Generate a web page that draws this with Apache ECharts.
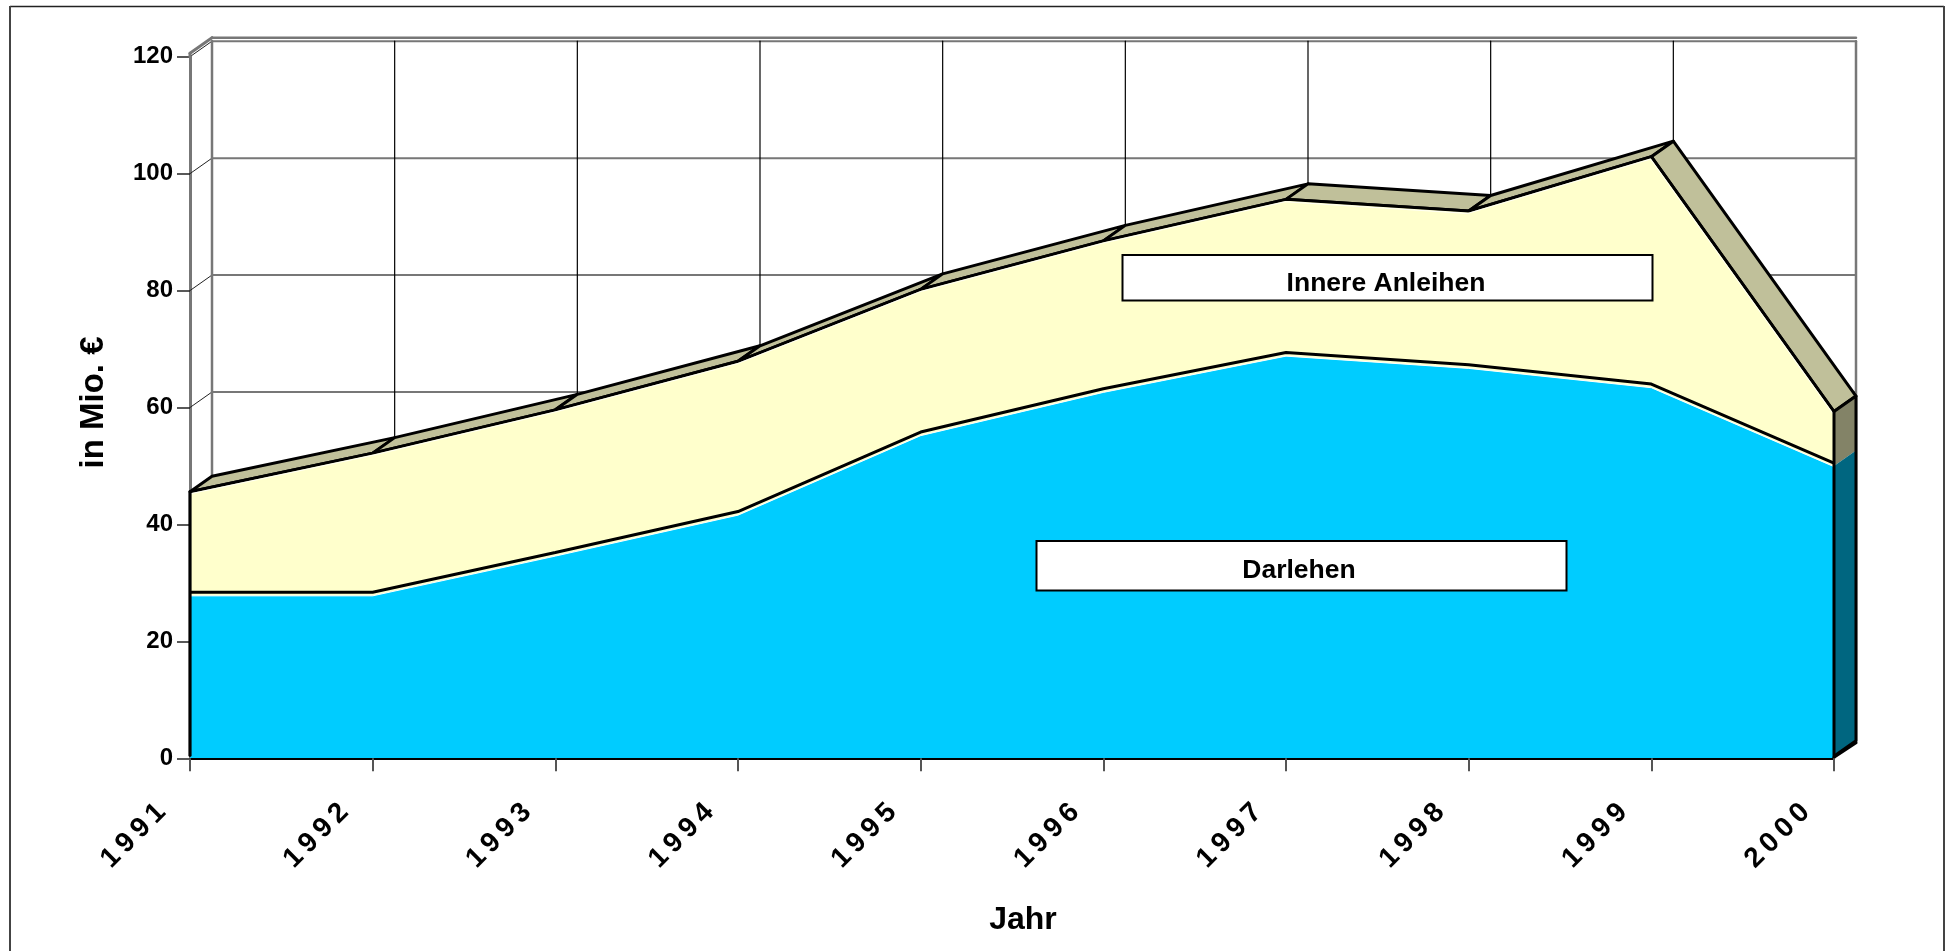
<!DOCTYPE html>
<html><head><meta charset="utf-8">
<script src="https://cdn.jsdelivr.net/npm/echarts@6/dist/echarts.min.js"></script>
<style>html,body{margin:0;padding:0;background:#fff}#c{width:1946px;height:951px}</style>
</head><body><div id="c"></div>
<script>
const categories = ['1991','1992','1993','1994','1995','1996','1997','1998','1999','2000'];
const darlehen = [28.4,28.4,35.2,42.2,55.8,63.2,69.4,67.3,64.0,50.5];
const innereAnleihen = [17.2,23.8,24.4,25.7,24.4,25.3,26.2,26.3,38.9,8.8];
const yTicks = [0,20,40,60,80,100,120];

const total = darlehen.map((d,i)=>d+innereAnleihen[i]);
const DX = 22, DY = -15.5;
const FONT = '"Liberation Sans", Arial, sans-serif';
const back = p => [p[0]+DX, p[1]+DY];
const last = categories.length-1;

// wide-tracked rotated year labels, keeping the text itself intact
const rawFill = CanvasRenderingContext2D.prototype.fillText;
CanvasRenderingContext2D.prototype.fillText = function(t,x,y,m){
  this.letterSpacing = /^\d{4}$/.test(t) ? '5.5px' : '0px';
  return m===undefined ? rawFill.call(this,t,x,y) : rawFill.call(this,t,x,y,m);
};

const line = (a,b,stroke,w,z) => ({type:'line',shape:{x1:a[0],y1:a[1],x2:b[0],y2:b[1]},style:{stroke,lineWidth:w,lineCap:'round'},z2:z||0});
const poly = (points,fill,stroke,w) => ({type:'polygon',shape:{points},style:{fill,stroke:stroke||null,lineWidth:w||0,lineJoin:'round'}});
const pl = (points,stroke,w) => ({type:'polyline',shape:{points},style:{stroke,lineWidth:w,fill:null,lineJoin:'round'}});
const custom = (name,data,z,renderItem) => ({type:'custom',name,data,z,silent:true,animation:false,clip:false,renderItem,tooltip:{show:false}});

const option = {
  animation:false,
  backgroundColor:'#fff',
  grid:{left:190,right:112,top:56.7,bottom:192.7,containLabel:false},
  xAxis:{type:'category',data:categories,boundaryGap:false,z:10,
    name:'Jahr',nameLocation:'middle',nameGap:146,
    nameTextStyle:{fontFamily:FONT,fontWeight:'bold',fontSize:32,color:'#000',padding:[0,0,0,22]},
    axisLine:{lineStyle:{color:'#000',width:2}},
    axisTick:{length:13,alignWithLabel:true,lineStyle:{color:'#555',width:2}},
    axisLabel:{interval:0,rotate:45,margin:21,padding:[0,35,0,0],hideOverlap:false,fontFamily:FONT,fontWeight:'bold',fontSize:28,color:'#000'},
    splitLine:{show:false}},
  yAxis:{type:'value',min:0,max:120,interval:20,
    name:'in Mio. €',nameLocation:'middle',nameGap:80,nameRotate:90,
    nameTextStyle:{fontFamily:FONT,fontWeight:'bold',fontSize:33,color:'#000',padding:[0,0,0,10]},
    axisLine:{show:true,lineStyle:{color:'#777',width:3}},
    axisTick:{show:true,length:13,lineStyle:{color:'#222',width:1.5}},
    axisLabel:{margin:17,fontFamily:FONT,fontWeight:'bold',fontSize:24,color:'#000'},
    splitLine:{show:false}},
  series:[
    custom('Wand horizontal',yTicks.map(v=>[0,v]),1,(p,api)=>{
      const v=api.value(1), f=api.coord([0,v]), r=api.coord([last,v]);
      const kids=[ line(back(f),back(r),'#777',2) ];
      if(v>0) kids.push(line(f,back(f),'#222',1));
      if(v===120){
        const a=[f[0],f[1]-3.5], b=[back(f)[0],back(f)[1]-3.5], c=[back(r)[0],b[1]];
        kids.push(line(a,b,'#777',3), line(b,c,'#777',2.5), line(f,a,'#777',3));
      }
      return {type:'group',children:kids};
    }),
    custom('Wand vertikal',categories.map((c,i)=>[i,0]),1,(p,api)=>{
      const i=api.value(0), f=back(api.coord([i,0])), t=back(api.coord([i,120]));
      const edge=(i===0||i===last);
      return line([f[0],f[1]],[t[0],t[1]],edge?'#777':'#000',edge?2.5:1.2);
    }),
    custom('Oberkante',categories.slice(0,-1).map((c,i)=>[i,0]),3,(p,api)=>{
      const i=api.value(0), a=api.coord([i,total[i]]), b=api.coord([i+1,total[i+1]]);
      return poly([a,b,back(b),back(a)],'#C0C09A','#000',3);
    }),
    custom('Seite',[[last,0]],3,(p,api)=>{
      const t=api.coord([last,total[last]]), m=api.coord([last,darlehen[last]]), o=api.coord([last,0]);
      const m2=[m[0],m[1]+3];
      const bot=[o[0],o[1]-2];
      return {type:'group',children:[
        poly([t,back(t),back(m2),m2],'#838367'),
        poly([m2,back(m2),back(bot),bot],'#006680'),
        pl([t,back(t),back(bot),bot],'#000',3)
      ]};
    }),
    {type:'line',name:'Darlehen',stack:'s',data:darlehen,z:4,symbol:'none',silent:true,
      lineStyle:{color:'#000',width:3},areaStyle:{color:'#FFFFCC',opacity:1}},
    {type:'line',name:'Innere Anleihen',stack:'s',data:innereAnleihen,z:4,symbol:'none',silent:true,
      lineStyle:{color:'#000',width:3},areaStyle:{color:'#FFFFCC',opacity:1}},
    custom('Darlehen Fläche',[[0,0]],5,(p,api)=>{
      const tops=darlehen.map((d,i)=>{const c=api.coord([i,d]);return [c[0],c[1]+3.6];});
      const pts=tops.concat([api.coord([last,0]),api.coord([0,0])]);
      return {type:'group',children:[ poly(pts,'#00CCFF'), pl(tops,'#fff',1) ]};
    }),
    custom('Kanten',[[0,0]],6,(p,api)=>{
      const tl=api.coord([0,total[0]]), bl=api.coord([0,0]);
      const tr=api.coord([last,total[last]]), br=api.coord([last,0]);
      const halo=total.map((d,i)=>{const c=api.coord([i,d]);return [c[0]-0.8,c[1]+2.4];});
      return {type:'group',children:[
        pl(halo,'#fff',0.8),
        line(tl,[bl[0],bl[1]-3],'#000',3.2),
        line(tr,[br[0],br[1]-1],'#000',3),
        line(back(br),[br[0],br[1]-1],'#000',3)
      ]};
    })
  ],
  graphic:[
    {type:'line',shape:{x1:10,y1:6.5,x2:1944,y2:6.5},style:{stroke:'#222',lineWidth:1.5},z:100},
    {type:'line',shape:{x1:10,y1:6,x2:10,y2:951},style:{stroke:'#444',lineWidth:2},z:100},
    {type:'line',shape:{x1:1944,y1:6,x2:1944,y2:951},style:{stroke:'#444',lineWidth:2},z:100},
    {type:'rect',shape:{x:1122.5,y:255,width:530,height:45.5},style:{fill:'#fff',stroke:'#000',lineWidth:2},z:100},
    {type:'text',x:1386,y:284,style:{text:'Innere Anleihen',font:'bold 26.5px '+FONT,fill:'#000',textAlign:'center',textVerticalAlign:'middle'},z:101},
    {type:'rect',shape:{x:1036.5,y:541,width:530,height:49.5},style:{fill:'#fff',stroke:'#000',lineWidth:2},z:100},
    {type:'text',x:1299,y:571,style:{text:'Darlehen',font:'bold 26.5px '+FONT,fill:'#000',textAlign:'center',textVerticalAlign:'middle'},z:101}
  ]
};
const chart = echarts.init(document.getElementById('c'),null,{renderer:'canvas',width:1946,height:951});
chart.setOption(option);
</script></body></html>
